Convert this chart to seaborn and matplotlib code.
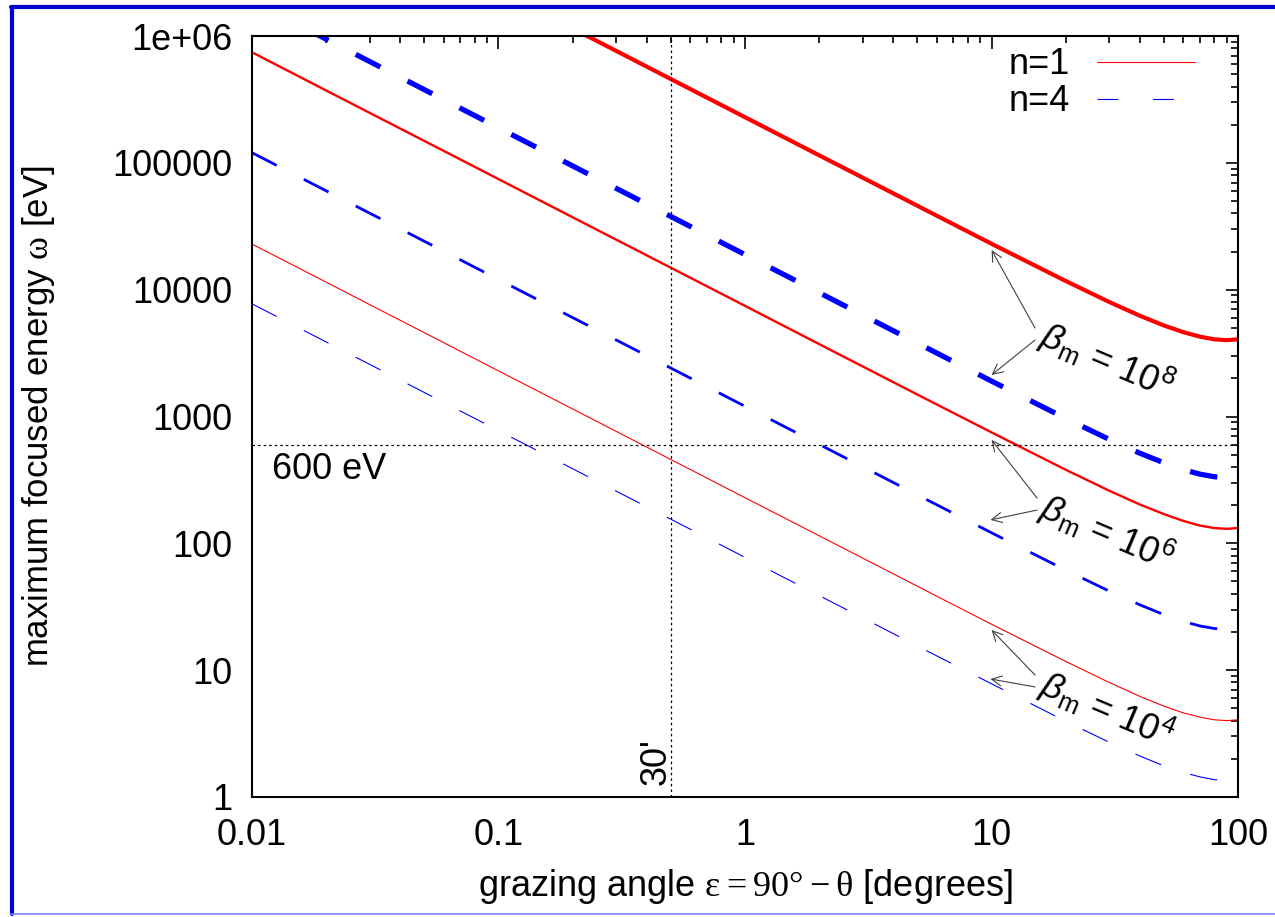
import numpy as np
import pandas as pd
import matplotlib
matplotlib.use("Agg")
import matplotlib.pyplot as plt
import seaborn as sns
from matplotlib.lines import Line2D
from matplotlib.ticker import LogLocator, NullFormatter

# ---------------- data ----------------
angle_deg = [0.01, 0.02, 0.05, 0.1, 0.2, 0.5, 1, 2, 5, 10, 20, 30, 40, 50, 60, 70, 80, 90, 100]

# n = 1 (red, solid)
n1_beta1e4 = [22900, 11460, 4580, 2290, 1146, 458, 229, 114.6, 45.9, 23.0, 11.7, 8.0, 6.2, 5.2, 4.6, 4.26, 4.06, 4.0, 4.06]
n1_beta1e6 = [745000, 372000, 149000, 74500, 37200, 14900, 7450, 3720, 1490, 749, 380, 260, 202, 170, 150, 138, 132, 130, 132]
n1_beta1e8 = [2.29e7, 1.146e7, 4.58e6, 2.29e6, 1.146e6, 458000, 229000, 114600, 45900, 23000, 11700, 8000, 6220, 5220, 4620, 4260, 4060, 4000, 4060]

# n = 4 (blue, dashed)
n4_beta1e4 = [7740, 3870, 1547, 774, 387, 155, 77.4, 38.7, 15.5, 7.8, 3.95, 2.7, 2.1, 1.76, 1.56, 1.44, 1.37, 1.35, 1.37]
n4_beta1e6 = [120300, 60200, 24100, 12030, 6020, 2410, 1203, 602, 241, 121, 61.4, 42, 32.7, 27.4, 24.2, 22.3, 21.3, 21.0, 21.3]
n4_beta1e8 = [1.89e6, 945000, 378000, 189000, 94500, 37800, 18900, 9460, 3790, 1900, 965, 660, 513, 431, 381, 351, 335, 330, 335]

legend_labels = ["n=1", "n=4"]
beta_labels = ["8", "6", "4"]
ref_energy_eV = 600
ref_angle_deg = 0.5

x_ticks = [0.01, 0.1, 1, 10, 100]
x_tick_labels = ["0.01", "0.1", "1", "10", "100"]
y_ticks = [1, 10, 100, 1000, 10000, 100000, 1000000]
y_tick_labels = ["1", "10", "100", "1000", "10000", "100000", "1e+06"]

# ---------------- style ----------------
sns.set_theme(style="white")
plt.rcParams["font.family"] = ["Liberation Sans", "DejaVu Sans"]
plt.rcParams["mathtext.fontset"] = "custom"
plt.rcParams["mathtext.rm"] = "Liberation Serif"
plt.rcParams["mathtext.it"] = "Liberation Sans:italic"
plt.rcParams["mathtext.sf"] = "Liberation Sans"
plt.rcParams["lines.scale_dashes"] = False
plt.rcParams["text.color"] = "black"
plt.rcParams["axes.labelcolor"] = "black"

FS = 26
fig = plt.figure(figsize=(12.75, 9.17), dpi=100)
ax = fig.add_axes([0.1976, 0.1309, 0.7735, 0.8298])
ax.set_xscale("log")
ax.set_yscale("log")

dash = (0, (20, 22))
curves = [
    (n1_beta1e4, "#ff0000", 0.8, None),
    (n1_beta1e6, "#ff0000", 1.7, None),
    (n1_beta1e8, "#ff0000", 3.0, None),
    (n4_beta1e4, "#0000ff", 0.8, dash),
    (n4_beta1e6, "#0000ff", 2.0, dash),
    (n4_beta1e8, "#0000ff", 3.8, dash),
]
for vals, col, lw, ls in curves:
    df = pd.DataFrame({"angle": angle_deg, "omega": vals})
    sns.lineplot(data=df, x="angle", y="omega", ax=ax, color=col, linewidth=lw,
                 estimator=None, sort=False, legend=False)
    if ls is not None:
        ax.lines[-1].set_linestyle(ls)

# reference dotted lines
ax.axhline(ref_energy_eV, color="black", lw=0.9, linestyle=(0, (1.8, 2.2)))
ax.axvline(ref_angle_deg, color="black", lw=0.9, linestyle=(0, (1.8, 2.2)))
ax.text(0.0121, 379, "600 eV", fontsize=FS, ha="left", va="center")
ax.text(0.4355, 1.24, "30'", fontsize=FS, rotation=90, ha="center", va="bottom")

# axes limits & ticks
ax.set_xlim(0.01, 100)
ax.set_ylim(1, 1e6)
ax.set_xticks(x_ticks, x_tick_labels)
ax.set_yticks(y_ticks, y_tick_labels)
ax.xaxis.set_minor_locator(LogLocator(base=10, subs=np.arange(2, 10), numticks=30))
ax.yaxis.set_minor_locator(LogLocator(base=10, subs=np.arange(2, 10), numticks=30))
ax.xaxis.set_minor_formatter(NullFormatter())
ax.yaxis.set_minor_formatter(NullFormatter())
ax.tick_params(which="both", direction="in", top=True, right=True, color="black", width=1.2,
               labelsize=FS, labelcolor="black")
ax.tick_params(which="major", length=9)
ax.tick_params(which="minor", length=5)
ax.tick_params(axis="x", which="major", pad=15)
ax.tick_params(axis="y", which="major", pad=14)
for sp in ax.spines.values():
    sp.set_color("black")
    sp.set_linewidth(1.5)

ax.set_xlabel("grazing angle $\\mathrm{ε = 90° - θ}$ [degrees]", fontsize=FS, labelpad=10)
ax.set_ylabel("maximum focused energy $\\mathrm{ω}$ [eV]", fontsize=25, labelpad=40)

# legend
handles = [Line2D([], [], color="#ff0000", lw=0.8),
           Line2D([], [], color="#0000ff", lw=0.8, linestyle=(0, (15, 25)))]
ax.legend(handles, legend_labels, loc="upper right", bbox_to_anchor=(0.956, 0.985),
          frameon=False, markerfirst=False, fontsize=FS, handlelength=2.7,
          handletextpad=0.75, labelspacing=0.05, borderpad=0, borderaxespad=0)

# beta annotations: (text anchor, red arrow head/tail, blue arrow head/tail)
arrow_kw = dict(arrowstyle="->", color="#404040", lw=0.8, shrinkA=0, shrinkB=0, mutation_scale=18)
annots = [
    ((15.4, 3664), (10, 20540), (15, 4985), (10, 2125), (15, 4010)),
    ((15.4, 161), (10, 653), (15.3, 227), (9.9, 153), (15.3, 183)),
    ((15.4, 6.49), (10, 20.7), (15, 9.16), (9.9, 8.52), (15, 7.37)),
]
for lab, (tpos, rh, rt, bh, bt) in zip(beta_labels, annots):
    ax.annotate("", xy=rh, xytext=rt, arrowprops=arrow_kw)
    ax.annotate("", xy=bh, xytext=bt, arrowprops=arrow_kw)
    ax.text(tpos[0], tpos[1], "$\\beta_{\\mathsf{m}}$ = 10$^{\\mathsf{" + lab + "}}$",
            fontsize=FS, rotation=-23, rotation_mode="anchor", ha="left", va="baseline")

# outer blue frame
W, H = 1275, 917
fig.add_artist(Line2D([11 / W, 1], [1 - 7 / H, 1 - 7 / H], transform=fig.transFigure, color="#0000cc", lw=3))
fig.add_artist(Line2D([11.5 / W, 11.5 / W], [1 - 7 / H, 3 / H], transform=fig.transFigure, color="#0000cc", lw=3))
fig.add_artist(Line2D([11 / W, 1], [3 / H, 3 / H], transform=fig.transFigure, color="#8080ff", lw=1.2))

fig.savefig("out.png", dpi=100)
